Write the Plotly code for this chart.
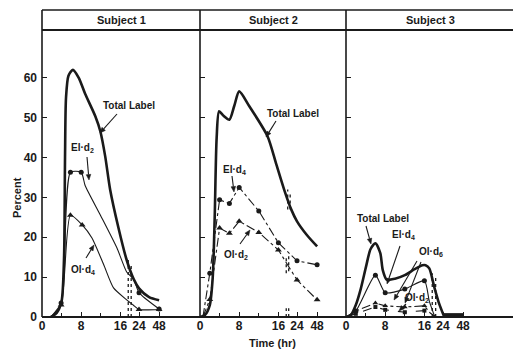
import numpy as np
import plotly.graph_objects as go

# ---------------- axis (broken time axis) ----------------
TICK_HOURS = [0, 8, 16, 24, 48]
TICK_TEXT = ["0", "8", "16", "24", "48"]
MINOR_HOURS = [4, 12]
BREAK_HOURS = [0, 16, 24, 48]
BREAK_POS = [0, 16, 19.8, 23.9]
Y_TICKS = [0, 10, 20, 30, 40, 50, 60]
Y_TICK_TEXT = ["0", "10", "20", "30", "40", "50", "60"]
SUBJECTS = ["Subject 1", "Subject 2", "Subject 3"]

# ---------------- Subject 1 ----------------
s1_total_t = [1.8, 3.0, 4.0, 4.5, 4.7, 4.9, 5.4, 6.3, 7.5, 8.8, 10.9, 11.9, 12.9, 13.9, 15.6, 18.7, 21.7, 24, 36, 48]
s1_total_v = [0, 1, 4, 15, 40, 55, 60.5, 62, 60, 56, 50.3, 46.6, 40.3, 32, 22.4, 14.3, 9.5, 7.2, 5.0, 4.2]
s1_eld2_t = [1.8, 3.9, 5.8, 8.0, 8.8, 11.9, 15.3, 18.7, 21.7, 24, 48]
s1_eld2_v = [0, 3.5, 36.3, 36.3, 33, 25.6, 17.3, 11.3, 9.5, 6.1, 2.0]
s1_eld2_pt_t = [3.9, 5.8, 8.0, 24, 48]
s1_eld2_pt_v = [3.5, 36.3, 36.3, 6.1, 2.0]
s1_old4_t = [1.8, 3.9, 5.8, 8.2, 10.2, 12.6, 14.6, 18.7, 21.5, 24, 48]
s1_old4_v = [0, 3, 25.5, 23.1, 19.8, 13.1, 7.3, 4.3, 3.0, 1.9, 1.9]
s1_old4_pt_t = [3.9, 5.8, 8.2, 24, 48]
s1_old4_pt_v = [3, 25.5, 23.1, 1.9, 1.9]

# ---------------- Subject 2 ----------------
s2_total_t = [0, 1.0, 2.0, 2.6, 3.0, 3.4, 3.9, 4.8, 6.0, 7.0, 8.0, 10.1, 13.8, 15.5, 18.5, 21.5, 24, 36, 48]
s2_total_v = [0, 0.5, 3, 10, 25, 45, 51.6, 50.5, 49.5, 53, 56.6, 52.8, 45.3, 38.6, 31.9, 27, 24, 20.5, 17.7]
s2_eld4_t = [0.6, 2, 4, 6, 8, 12, 16, 24, 48]
s2_eld4_v = [0, 11, 29.4, 28.5, 32.5, 26.6, 18.6, 14.1, 13.1]
s2_old2_t = [0.6, 2, 4, 6, 8, 12, 16, 24, 48]
s2_old2_v = [0, 4.4, 22.3, 21, 24, 21.2, 16.8, 9.3, 4.3]

# ---------------- Subject 3 ----------------
s3_total_t = [0, 1, 2, 3, 4.1, 5, 6, 7, 7.5, 8.3, 10, 12, 14, 15.6, 16.5, 18.1, 20.2, 22.3, 25.5]
s3_total_v = [0, 0.5, 3, 7, 12.7, 17, 18.5, 16, 11.8, 9.4, 9.6, 10.5, 12, 13, 13, 12.2, 7.6, 3.4, 0]
s3_eld4_t = [0, 2, 6, 8, 12, 16, 18.1, 20.5]
s3_eld4_v = [0, 1.5, 10.5, 6.1, 7.0, 9.1, 4.0, 0]
s3_old6_t = [0, 2, 6, 8, 12, 16, 18.5, 21]
s3_old6_v = [0, 1.5, 3.5, 2.8, 2.5, 2.8, 1.0, 0]
s3_old2_t = [0, 2, 6, 8, 12, 16, 19, 21]
s3_old2_v = [0, 0.8, 2.5, 1.8, 1.2, 1.6, 0.5, 0]
s3_late_t = [24, 30, 36, 48]
s3_late_v = [0.6, 0.6, 0.6, 0.6]


def bx(t):
    return np.interp(np.asarray(t, dtype=float), BREAK_HOURS, BREAK_POS)


INK = "#1a1a1a"
FONT = "Liberation Sans, Arial, sans-serif"

fig = go.Figure()


def line(t, v, ax, width=1.1, dash="solid", shape="spline", smooth=0.8):
    fig.add_trace(go.Scatter(
        x=bx(t), y=v, mode="lines", xaxis=ax[0], yaxis=ax[1],
        line=dict(color=INK, width=width, dash=dash, shape=shape,
                  smoothing=smooth if shape == "spline" else None),
        hoverinfo="skip", showlegend=False))


def marks(t, v, ax, symbol="circle", size=5):
    fig.add_trace(go.Scatter(
        x=bx(t), y=v, mode="markers", xaxis=ax[0], yaxis=ax[1],
        marker=dict(color=INK, size=size, symbol=symbol),
        hoverinfo="skip", showlegend=False))


A1, A2, A3 = ("x", "y"), ("x2", "y2"), ("x3", "y3")

# Subject 1
line(s1_total_t, s1_total_v, A1, width=2.6, smooth=0.7)
line(s1_eld2_t, s1_eld2_v, A1, width=1.1, smooth=0.6)
marks(s1_eld2_pt_t, s1_eld2_pt_v, A1, "circle", 5)
line(s1_old4_t, s1_old4_v, A1, width=1.1, smooth=0.6)
marks(s1_old4_pt_t, s1_old4_pt_v, A1, "triangle-up", 6)

# Subject 2
line(s2_total_t, s2_total_v, A2, width=2.6, smooth=0.7)
line(s2_eld4_t, s2_eld4_v, A2, width=1.1, dash="dashdot", shape="linear")
marks(s2_eld4_t[1:], s2_eld4_v[1:], A2, "circle", 5)
line(s2_old2_t, s2_old2_v, A2, width=1.1, dash="dashdot", shape="linear")
marks(s2_old2_t[1:], s2_old2_v[1:], A2, "triangle-up", 6)

# Subject 3
line(s3_total_t, s3_total_v, A3, width=2.6, smooth=0.7)
line(s3_eld4_t, s3_eld4_v, A3, width=1.1, smooth=0.6)
marks(s3_eld4_t[1:6], s3_eld4_v[1:6], A3, "circle", 5)
line(s3_old6_t, s3_old6_v, A3, width=1.1, dash="dashdot", shape="linear")
marks(s3_old6_t[1:6], s3_old6_v[1:6], A3, "triangle-up", 5)
line(s3_old2_t, s3_old2_v, A3, width=1.1, dash="dash", shape="linear")
marks(s3_old2_t[1:6], s3_old2_v[1:6], A3, "square", 4)
line(s3_late_t, s3_late_v, A3, width=3, shape="linear")

# ---------------- layout geometry ----------------
W, H = 513, 350
ML, MR, MT, MB = 42, 0, 10, 33
PW, PH = W - ML - MR, H - MT - MB
HEADER = 20
YTOP = (PH - HEADER) / PH
edges_px = [42, 200, 346, 513]
doms = [[(edges_px[i] - ML) / PW, (edges_px[i + 1] - ML) / PW] for i in range(3)]
PXH = 4.9  # pixels per hour-unit on the time axis


def paper(px, py):
    return (px - ML) / PW, (H - MB - py) / PH


axis_font = dict(family=FONT, size=12, color=INK, weight="bold")
for i in range(3):
    sfx = "" if i == 0 else str(i + 1)
    width_px = edges_px[i + 1] - edges_px[i]
    yax = dict(domain=[0, YTOP], range=[0, 72], anchor="x" + sfx,
               tickmode="array", tickvals=Y_TICKS,
               ticks="inside", ticklen=5, tickwidth=1.2, tickcolor=INK,
               showgrid=False, zeroline=False, showline=False, fixedrange=True)
    if i == 0:
        yax.update(ticktext=Y_TICK_TEXT, tickfont=axis_font, ticklabelstandoff=4)
    else:
        yax.update(showticklabels=False)
    fig.update_layout(**{
        "xaxis" + sfx: dict(domain=doms[i], range=[0, width_px / PXH], anchor="y" + sfx,
                            tickmode="array", tickvals=list(bx(TICK_HOURS)), ticktext=TICK_TEXT,
                            ticks="inside", ticklen=5, tickwidth=1, tickcolor=INK,
                            minor=dict(tickmode="array", tickvals=list(bx(MINOR_HOURS)),
                                       ticks="inside", ticklen=4, tickwidth=1, tickcolor=INK,
                                       showgrid=False),
                            showgrid=False, zeroline=False, showline=False,
                            tickfont=axis_font, fixedrange=True),
        "yaxis" + sfx: yax,
    })

shapes = []
# frame lines
for yy, w in [(1, 1.6), (YTOP, 2), (0, 1.8)]:
    shapes.append(dict(type="line", xref="paper", yref="paper", x0=0, x1=1, y0=yy, y1=yy,
                       line=dict(color=INK, width=w)))
for d in doms:
    shapes.append(dict(type="line", xref="paper", yref="paper", x0=d[0], x1=d[0], y0=0, y1=1,
                       line=dict(color=INK, width=1.6)))

# break marks (axis positions)
breaks = [
    ("x", "y", [(17.6, 0, 15), (18.2, 0, 13.5)]),
    ("x2", "y2", [(17.6, 0, 2.2), (18.1, 0, 2.2), (17.6, 11, 15), (18.1, 11.5, 15.5),
                  (17.9, 27, 32), (18.4, 27, 31)]),
    ("x3", "y3", [(17.6, 0, 11), (18.3, 0, 10.5)]),
]
for xr, yr, segs in breaks:
    for xx, y0, y1 in segs:
        shapes.append(dict(type="line", xref=xr, yref=yr, x0=xx, x1=xx, y0=y0, y1=y1,
                           line=dict(color=INK, width=1.3, dash="dot")))

# pointer arrows (tail -> head, in page pixels), drawn as line + filled head
arrows = [
    ((117, 114), (100, 133)), ((87, 157), (89, 180)), ((86, 258), (94, 245)),
    ((276, 121), (266, 137)), ((232, 176), (234, 192)), ((240, 244), (250, 230)),
    ((366, 226), (371, 244)), ((400, 246), (387, 284)), ((417, 261), (394, 300)),
    ((421, 262), (405, 303)), ((406, 304), (399, 311)),
]
for (tx, ty), (hx, hy) in arrows:
    d = np.array([hx - tx, hy - ty], dtype=float)
    d /= np.hypot(*d)
    n = np.array([-d[1], d[0]])
    base = np.array([hx, hy]) - d * 5.5
    p1, p2 = base + n * 2.3, base - n * 2.3
    x0, y0 = paper(tx, ty)
    xb, yb = paper(*base)
    shapes.append(dict(type="line", xref="paper", yref="paper", x0=x0, y0=y0, x1=xb, y1=yb,
                       line=dict(color=INK, width=1.1)))
    pts = [paper(hx, hy), paper(*p1), paper(*p2)]
    path = "M {} {} L {} {} L {} {} Z".format(*[c for p in pts for c in p])
    shapes.append(dict(type="path", xref="paper", yref="paper", path=path,
                       fillcolor=INK, line=dict(color=INK, width=0.5)))

annotations = []


def label(txt, cx, cy, size=11, angle=0):
    x, y = paper(cx, cy)
    annotations.append(dict(text=txt, x=x, y=y, xref="paper", yref="paper", showarrow=False,
                            xanchor="center", yanchor="middle", textangle=angle,
                            font=dict(family=FONT, size=size, color=INK, weight="bold")))


for name, cx in zip(SUBJECTS, [121, 273, 430]):
    label(name, cx, 20, 11)
label("Percent", 17, 198, 11, -90)
label("Time (hr)", 272, 343, 11)

texts = [
    ("Total Label", 129, 105), ("El·d<sub>2</sub>", 82, 148), ("Ol·d<sub>4</sub>", 83, 270),
    ("Total Label", 293, 113), ("El·d<sub>4</sub>", 234, 170), ("Ol·d<sub>2</sub>", 236, 255),
    ("Total Label", 383, 218), ("El·d<sub>4</sub>", 403, 235), ("Ol·d<sub>6</sub>", 431, 252),
    ("Ol·d<sub>2</sub>", 417, 298),
]
for txt, cx, cy in texts:
    label(txt, cx, cy, 10)

fig.update_layout(width=W, height=H, margin=dict(l=ML, r=MR, t=MT, b=MB, pad=0),
                  paper_bgcolor="white", plot_bgcolor="white",
                  shapes=shapes, annotations=annotations, showlegend=False)

fig.write_html("out.html", config={"displayModeBar": False, "staticPlot": True},
               post_script="document.body.style.margin='0';document.body.style.overflow='hidden';")
